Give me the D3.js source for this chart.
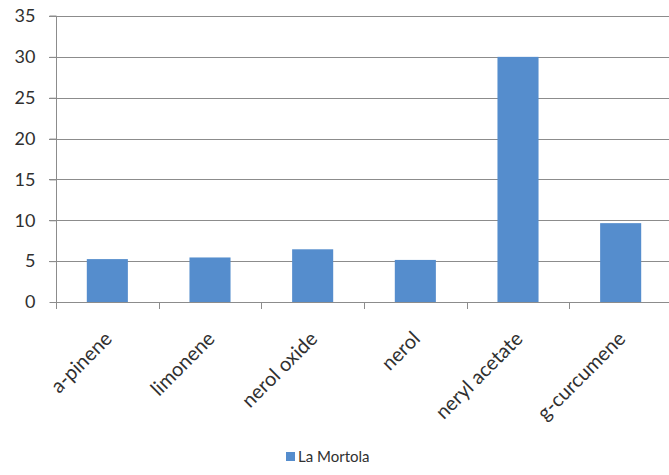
<!DOCTYPE html>
<html>
<head>
<meta charset="utf-8">
<script src="https://cdn.jsdelivr.net/npm/d3@7"></script>
<style>
  html, body { margin: 0; padding: 0; background: #fff; }
  svg { display: block; }
  text { font-family: Lato, "Open Sans", sans-serif; fill: #303030; }
</style>
</head>
<body>
<svg id="chart" width="669" height="475"></svg>
<script>
const categories = ["a-pinene", "limonene", "nerol oxide", "nerol", "neryl acetate", "g-curcumene"];
const seriesName = "La Mortola";
const values = [5.25, 5.45, 6.45, 5.15, 30.0, 9.65];
const yTicks = [0, 5, 10, 15, 20, 25, 30, 35];

const svg = d3.select("#chart");
const plotLeft = 56, plotRight = 672, plotTop = 16, plotBottom = 302;
const fontStack = 'Lato, "Open Sans", sans-serif';

const x = d3.scaleBand().domain(categories).range([plotLeft, plotRight]).paddingInner(0.6).paddingOuter(0.3);
const y = d3.scaleLinear().domain([0, 35]).range([plotBottom, plotTop]);
const step = x.step();
const gridColor = "#8c8c8c";
const barColor = "#558dcd";

// gridlines
svg.append("g").selectAll("line").data(yTicks.filter(d => d > 0)).join("line")
  .attr("x1", plotLeft - 7).attr("x2", 669)
  .attr("y1", d => Math.round(y(d)) + 0.5).attr("y2", d => Math.round(y(d)) + 0.5)
  .attr("stroke", gridColor).attr("stroke-width", 1);

// y axis
const yAxis = d3.axisLeft(y).tickValues(yTicks).tickSize(7).tickPadding(14);
const gy = svg.append("g").attr("transform", `translate(${plotLeft + 0.5},0)`).call(yAxis);
gy.select(".domain").attr("stroke", gridColor).attr("d", `M-7,${plotTop}H0V${plotBottom + 6}`);
gy.selectAll(".tick line").attr("stroke", gridColor);
gy.selectAll(".tick text").attr("font-size", 18).attr("fill", "#303030")
  .style("font-family", fontStack);

// bars
svg.append("g").selectAll("rect").data(values).join("rect")
  .attr("x", (d, i) => x(categories[i]))
  .attr("width", x.bandwidth())
  .attr("y", d => y(d))
  .attr("height", d => y(0) - y(d))
  .attr("fill", barColor);

// x axis line
svg.append("line").attr("x1", plotLeft).attr("x2", 669)
  .attr("y1", plotBottom + 0.5).attr("y2", plotBottom + 0.5)
  .attr("stroke", gridColor);

// x ticks at band boundaries
const bounds = d3.range(categories.length + 1).map(i => plotLeft + i * step);
svg.append("g").selectAll("line").data(bounds).join("line")
  .attr("x1", d => Math.round(d) + 0.5).attr("x2", d => Math.round(d) + 0.5)
  .attr("y1", plotBottom).attr("y2", plotBottom + 7)
  .attr("stroke", gridColor);

// category labels
svg.append("g").selectAll("text").data(categories).join("text")
  .attr("transform", d => `translate(${x(d) + x.bandwidth() / 2 + 6},340) rotate(-45)`)
  .attr("text-anchor", "end")
  .attr("font-size", 20)
  .text(d => d);

// legend
const lg = svg.append("g");
lg.append("rect").attr("x", 286).attr("y", 452).attr("width", 9).attr("height", 9).attr("fill", barColor);
lg.append("text").attr("x", 298).attr("y", 462).attr("font-size", 15).text(seriesName);
</script>
</body>
</html>
